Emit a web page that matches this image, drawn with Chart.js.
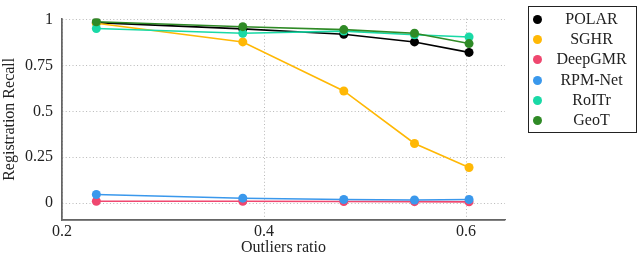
<!DOCTYPE html>
<html>
<head>
<meta charset="utf-8">
<script src="https://cdn.jsdelivr.net/npm/chart.js@4"></script>
<style>
  body { margin: 0; background: #fff; }
  #wrap { position: relative; width: 640px; height: 253px; }
  #legend {
    position: absolute; left: 528px; top: 6px; width: 109px; height: 127px;
    border: 1px solid #222; box-sizing: border-box;
    font-family: "Liberation Serif", serif; font-size: 16px; color: #222;
  }
  .item { position: absolute; left: 0; width: 107px; height: 20px; line-height: 20px; }
  .dot { position: absolute; left: 4px; top: 6px; width: 9px; height: 9px; border-radius: 50%; }
  .lbl { position: absolute; left: 18px; right: 0; text-align: center; }
</style>
</head>
<body>
<div id="wrap">
  <canvas id="c" width="640" height="253"></canvas>
  <div id="legend"></div>
</div>
<script>
// outlier ratios
var ratios = [0.234, 0.379, 0.479, 0.549, 0.603];

var names = ["POLAR", "SGHR", "DeepGMR", "RPM-Net", "RoITr", "GeoT"];
var colors = ["#000000", "#ffb805", "#ef476f", "#3a98ec", "#19d9a6", "#2f8a26"];

var polar   = [0.983, 0.949, 0.920, 0.878, 0.821];
var sghr    = [0.980, 0.878, 0.611, 0.325, 0.194];
var deepgmr = [0.010, 0.010, 0.009, 0.008, 0.007];
var rpmnet  = [0.047, 0.027, 0.020, 0.017, 0.020];
var roitr   = [0.951, 0.925, 0.937, 0.917, 0.905];
var geot    = [0.988, 0.961, 0.945, 0.925, 0.869];

var yTicks = [0, 0.25, 0.5, 0.75, 1];
var xTicks = [0.2, 0.4, 0.6];

var series = [polar, sghr, deepgmr, rpmnet, roitr, geot];
var datasets = [];
for (let i = 0; i < series.length; i++) {
    datasets.push({
        label: names[i],
        data: ratios.map((x, j) => ({x: x, y: series[i][j]})),
        borderColor: colors[i],
        backgroundColor: colors[i],
        borderWidth: 1.6,
        pointRadius: 4.5,
        pointHoverRadius: 4.5,
        pointBorderWidth: 0,
        tension: 0,
        order: series.length - i
    });
}

var leg = document.getElementById("legend");
for (let i = 0; i < names.length; i++) {
    var it = document.createElement("div");
    it.className = "item";
    it.style.top = (2 + i * 20.2) + "px";
    it.innerHTML = `<span class="dot" style="background:${colors[i]}"></span><span class="lbl">${names[i]}</span>`;
    leg.appendChild(it);
}

var font = {family: "Liberation Serif", size: 16};
var gridStyle = {
    color: "#b8b8b8",
    lineWidth: 1,
    drawTicks: false
};

new Chart(document.getElementById("c"), {
    type: "line",
    data: {datasets: datasets},
    options: {
        responsive: false,
        animation: false,
        events: [],
        layout: {padding: {left: 0, right: 135, top: 5, bottom: 0}},
        plugins: {legend: {display: false}, tooltip: {enabled: false}},
        scales: {
            x: {
                type: "linear",
                min: 0.2,
                max: 0.6386,
                afterBuildTicks: s => { s.ticks = xTicks.map(v => ({value: v})); },
                afterFit: s => { s.height = 33; },
                ticks: {
                    font: font, color: "#222", padding: 2,
                    callback: v => v.toString()
                },
                grid: gridStyle,
                border: {color: "#666", width: 1.3, dash: [1, 2.4], display: true},
                title: {display: true, text: "Outliers ratio", font: font, color: "#222", padding: {top: 0, bottom: -4}}
            },
            y: {
                min: -0.0918,
                max: 1.005,
                afterBuildTicks: s => { s.ticks = yTicks.map(v => ({value: v})); },
                afterFit: s => { s.width = 62; },
                ticks: {
                    font: font, color: "#222", padding: 9,
                    callback: v => v.toString()
                },
                grid: gridStyle,
                border: {color: "#666", width: 1.3, dash: [1, 2.4], display: true},
                title: {display: true, text: "Registration Recall", font: font, color: "#222", padding: {top: 0, bottom: 0}}
            }
        }
    },
    plugins: [{
        // solid axis lines on the left and bottom
        id: "axes",
        afterDraw(chart) {
            var a = chart.chartArea, ctx = chart.ctx;
            ctx.save();
            ctx.strokeStyle = "#666";
            ctx.lineWidth = 1.3;
            ctx.beginPath();
            ctx.moveTo(a.left, a.top);
            ctx.lineTo(a.left, a.bottom);
            ctx.lineTo(a.right, a.bottom);
            ctx.stroke();
            ctx.restore();
        }
    }]
});
</script>
</body>
</html>
